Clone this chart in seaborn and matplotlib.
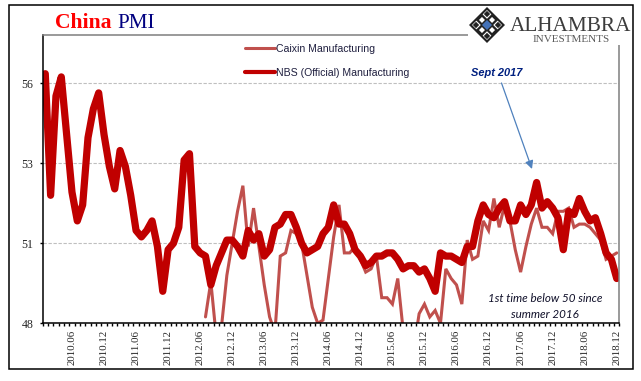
import numpy as np
import pandas as pd
import matplotlib
matplotlib.use("Agg")
import matplotlib.pyplot as plt
from matplotlib.patches import Polygon, Rectangle
import seaborn as sns

years = list(range(2010, 2019))
months = [f"{y}.{m:02d}" for y in years for m in range(1, 13)]

nbs = [55.8, 52.0, 55.1, 55.7, 53.9, 52.1, 51.2, 51.7, 53.8, 54.7, 55.2, 53.9,
       52.9, 52.2, 53.4, 52.9, 52.0, 50.9, 50.7, 50.9, 51.2, 50.4, 49.0, 50.3,
       50.5, 51.0, 53.1, 53.3, 50.4, 50.2, 50.1, 49.2, 49.8, 50.2, 50.6, 50.6,
       50.4, 50.1, 50.9, 50.6, 50.8, 50.1, 50.3, 51.0, 51.1, 51.4, 51.4, 51.0,
       50.5, 50.2, 50.3, 50.4, 50.8, 51.0, 51.7, 51.1, 51.1, 50.8, 50.3, 50.1,
       49.8, 49.9, 50.1, 50.1, 50.2, 50.2, 50.0, 49.7, 49.8, 49.8, 49.6, 49.7,
       49.4, 49.0, 50.2, 50.1, 50.1, 50.0, 49.9, 50.4, 50.4, 51.2, 51.7, 51.4,
       51.3, 51.6, 51.8, 51.2, 51.2, 51.7, 51.4, 51.7, 52.4, 51.6, 51.8, 51.6,
       51.3, 50.3, 51.5, 51.4, 51.9, 51.5, 51.2, 51.3, 50.8, 50.2, 50.0, 49.4]

caixin = [np.nan] * 30 + [
    48.2, 49.3, 47.6, 47.9, 49.5, 50.5,
    51.5, 52.3, 50.4, 51.6, 50.4, 49.2, 48.2, 47.7, 50.1, 50.2, 50.9, 50.8,
    50.5, 49.5, 48.5, 48.0, 48.1, 49.4, 50.7, 51.7, 50.2, 50.2, 50.4, 50.0,
    49.6, 49.7, 50.1, 48.8, 48.8, 48.6, 49.4, 47.8, 47.3, 47.2, 48.3, 48.6,
    48.2, 48.4, 48.0, 49.7, 49.4, 49.2, 48.6, 50.6, 50.0, 50.1, 51.2, 50.9,
    51.9, 51.0, 51.7, 51.2, 50.3, 49.6, 50.4, 51.1, 51.6, 51.0, 51.0, 50.8,
    51.5, 51.5, 51.6, 51.0, 51.1, 51.1, 51.0, 50.8, 50.6, 50.0, 50.1, 50.2]

y_ticks = [48, 50.5, 53, 55.5]
y_labels = ["48", "51", "53", "56"]
x_labels = months[5::6]

W, H = 641, 381


def fx(px):
    return px / W


def fy(px):
    return 1 - px / H


sns.set_style("white")
plt.rcParams["font.family"] = ["Liberation Serif", "DejaVu Sans"]

fig = plt.figure(figsize=(W / 100, H / 100), dpi=100)
ax = fig.add_axes([fx(42.6), fy(323.3), (619.4 - 42.6) / W, (323.3 - 35.3) / H])

df = pd.DataFrame({"pos": range(len(months)), "caixin": caixin, "nbs": nbs})
sns.lineplot(data=df, x="pos", y="caixin", ax=ax, color="#C0504D", lw=2.2,
             label="Caixin Manufacturing", solid_joinstyle="miter")
sns.lineplot(data=df, x="pos", y="nbs", ax=ax, color="#C00000", lw=5.2,
             label="NBS (Official) Manufacturing", solid_joinstyle="round")

ax.set_xlim(-0.5, len(months) - 0.5)
ax.set_ylim(48, 57)
ax.set_xlabel("")
ax.set_ylabel("")

ax.set_yticks(y_ticks)
ax.set_yticklabels(y_labels, fontsize=8.6)
ax.yaxis.grid(True, color="#BFBFBF", ls=(0, (3, 1.5)), lw=0.8)
ax.xaxis.grid(False)
ax.tick_params(axis="y", left=True, length=2.5, width=1, pad=4, color="black")

ax.set_xticks(range(5, len(months), 6))
ax.set_xticklabels(x_labels, rotation=90, fontsize=7.8)
ax.set_xticks(np.arange(-0.5, len(months)), minor=True)
ax.tick_params(axis="x", which="major", bottom=False, pad=1)
ax.tick_params(axis="x", which="minor", bottom=True, length=2.5, width=1, color="black")

for side in ["left", "bottom"]:
    ax.spines[side].set_color("black")
    ax.spines[side].set_linewidth(1.1)
for side in ["top", "right"]:
    ax.spines[side].set_color("#7F7F7F")
    ax.spines[side].set_linewidth(1.1)

leg = ax.legend(loc="upper left", bbox_to_anchor=(fx(245), fy(44)), bbox_transform=fig.transFigure,
                frameon=False, borderpad=0, borderaxespad=0, handlelength=2.8, handletextpad=0.1,
                labelspacing=1.32, prop={"family": "Liberation Sans", "size": 7.6})
for t in leg.get_texts():
    t.set_color("#1F1F3F")
# thick line has a thinner key in the reference
leg.legend_handles[1].set_linewidth(3)

# title
fig.text(fx(55), fy(28), "China", color="#FF0000", fontsize=15.6, fontweight="bold", family="Liberation Serif")
fig.text(fx(117), fy(28), "PMI", color="#000080", fontsize=15.2, family="Liberation Serif")

# notes
ax.annotate("", xy=(fx(532), fy(169)), xytext=(fx(501.5), fy(83)), xycoords="figure fraction",
            textcoords="figure fraction",
            arrowprops=dict(arrowstyle="-|>", color="#4F81BD", lw=0.9, mutation_scale=12, shrinkA=0, shrinkB=0))
fig.text(fx(496.5), fy(73), "Sept 2017", color="#002080", fontsize=7.9, fontweight="bold",
         fontstyle="italic", family="Liberation Sans", ha="center", va="center")
fig.text(fx(545), fy(299), "1st time below 50 since", color="#10102A", fontsize=8.4, fontstyle="italic",
         family="Lato", ha="center", va="center")
fig.text(fx(545), fy(314), "summer 2016", color="#10102A", fontsize=8.4, fontstyle="italic",
         family="Lato", ha="center", va="center")

# outer frame
fig.add_artist(Rectangle((fx(8.5), fy(369)), (632.7 - 8.5) / W, (369 - 4.8) / H, fill=False,
                         edgecolor="black", lw=1.1, transform=fig.transFigure))

# logo, white block hides the corner of the axes frame
fig.add_artist(Rectangle((fx(468), fy(44.5)), (631 - 468) / W, (44.5 - 6) / H, facecolor="white",
                         edgecolor="none", transform=fig.transFigure, zorder=2))


def diamond(cx, cy, r, **kw):
    pts = [(fx(cx - r), fy(cy)), (fx(cx), fy(cy - r)), (fx(cx + r), fy(cy)), (fx(cx), fy(cy + r))]
    fig.add_artist(Polygon(pts, closed=True, transform=fig.transFigure, zorder=3, **kw))


lx, ly = 487, 25
diamond(lx, ly, 18, facecolor="#222222", edgecolor="none")
diamond(lx, ly, 15, facecolor="white", edgecolor="none")
for dx, dy in [(-7, -7), (7, -7), (-7, 7), (7, 7)]:
    diamond(lx + dx * 0.72, ly + dy * 0.72, 6.2, facecolor="#222222", edgecolor="none")
    diamond(lx + dx * 0.72, ly + dy * 0.72, 3, facecolor="white", edgecolor="none")
for dx, dy in [(-11, 0), (11, 0), (0, -11), (0, 11)]:
    diamond(lx + dx, ly + dy, 3.2, facecolor="#222222", edgecolor="none")
diamond(lx, ly, 5, facecolor="#4472B8", edgecolor="none")

fig.text(fx(510), fy(31), "ALHAMBRA", color="#3C3C3C", fontsize=15.3, family="Liberation Serif", zorder=4)
fig.text(fx(532.5), fy(42), "INVESTMENTS", color="#595959", fontsize=8, family="Liberation Serif", zorder=4)

fig.savefig("out.png", dpi=100)
